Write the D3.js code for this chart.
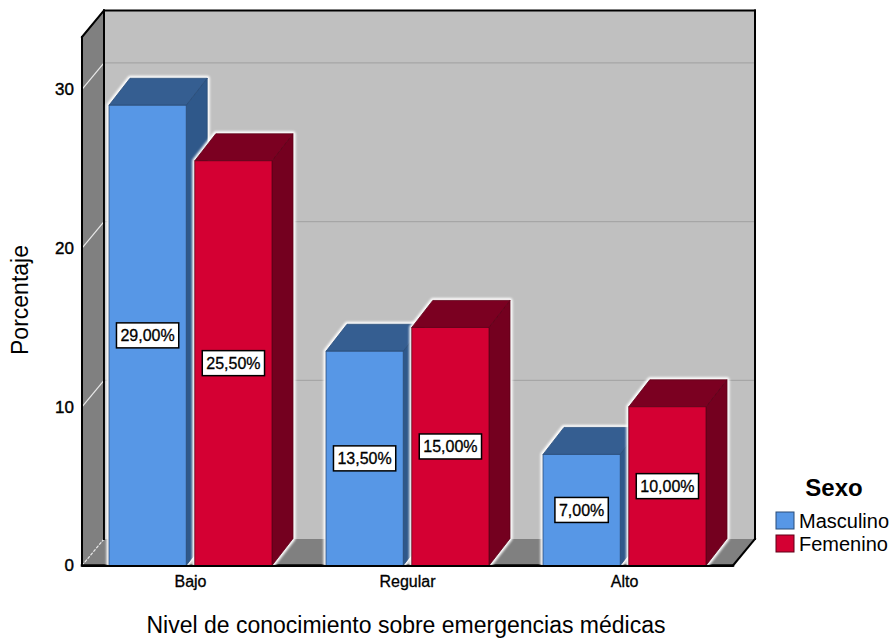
<!DOCTYPE html>
<html>
<head>
<meta charset="utf-8">
<script src="https://cdn.jsdelivr.net/npm/d3@7"></script>
<style>
  body { margin: 0; background: #fff; }
  svg { display: block; font-family: "Liberation Sans", Arial, sans-serif; }
</style>
</head>
<body>
<svg id="chart" width="896" height="641"></svg>
<script>
// Percentages by knowledge level and sex
const categories = ["Bajo", "Regular", "Alto"];
const series = ["Masculino", "Femenino"];
const masculino = [29.0, 13.5, 7.0];
const femenino = [25.5, 15.0, 10.0];
const yTicks = [0, 10, 20, 30];

const valuesBySeries = { Masculino: masculino, Femenino: femenino };

const palette = {
  Masculino: { front: "#5797e6", top: "#355e91", side: "#2f588a", edge: "#2a4c78" },
  Femenino:  { front: "#d40033", top: "#7b0021", side: "#74001f", edge: "#5e0018" }
};

const svg = d3.select("#chart");

// 3D frame: front plane and depth offset of the walls / boxes
const frontLeft = 82, frontRight = 733;
const baseY = 565.5, topY = 37;
const DX = 22, DY = -26.5;

const y = d3.scaleLinear().domain([0, 33.3]).range([baseY, topY]);
const x0 = d3.scaleBand().domain(categories).range([frontLeft, frontRight]);
const x1 = d3.scaleBand().domain(series).range([27, 190]).paddingInner(0.1);

const es = d3.formatLocale({ decimal: ",", thousands: ".", grouping: [3], currency: ["", "€"] });
const pct = v => es.format(".2f")(v) + "%";

// soft white halo used around boxes
const defs = svg.append("defs");
defs.append("filter").attr("id", "halo").attr("x", "-20%").attr("y", "-20%").attr("width", "140%").attr("height", "140%")
  .append("feGaussianBlur").attr("stdDeviation", 1.2);

const pts = a => a.map(p => p.join(",")).join(" ");

// ----- walls -----
const g = svg.append("g");
const backL = frontLeft + DX, backR = frontRight + DX;
const backTop = topY + DY, backBase = baseY + DY;

// back wall
g.append("rect").attr("x", backL).attr("y", backTop).attr("width", backR - backL).attr("height", backBase - backTop)
  .attr("fill", "#c0c0c0");
// soft highlights inside the back wall borders
g.append("line").attr("x1", backR - 2.5).attr("x2", backR - 2.5).attr("y1", backTop + 2).attr("y2", backBase)
  .attr("stroke", "#e6e6e6").attr("stroke-width", 2).attr("filter", "url(#halo)");
g.append("line").attr("x1", backL).attr("x2", backR).attr("y1", backTop + 3).attr("y2", backTop + 3)
  .attr("stroke", "#d8d8d8").attr("stroke-width", 2).attr("filter", "url(#halo)");

// left wall
g.append("polygon").attr("points", pts([[frontLeft, topY], [backL, backTop], [backL, backBase], [frontLeft, baseY]]))
  .attr("fill", "#808080");

// floor
g.append("polygon").attr("points", pts([[frontLeft, baseY], [backL, backBase], [backR, backBase], [frontRight, baseY]]))
  .attr("fill", "#808080");

// gridlines on back wall and left wall
yTicks.forEach(t => {
  if (t > 0) {
    g.append("line").attr("x1", backL).attr("x2", backR).attr("y1", y(t) + DY).attr("y2", y(t) + DY)
      .attr("stroke", "#a6a6a6").attr("stroke-width", 1.2);
  }
  g.append("line").attr("x1", frontLeft).attr("y1", y(t)).attr("x2", backL).attr("y2", y(t) + DY)
    .attr("stroke", "#e8e8e8").attr("stroke-width", 1.2)
    .attr("stroke-dasharray", t === 0 ? "3,1.5" : null);
});

// frame edges
const edge = (a, b, w) => g.append("line").attr("x1", a[0]).attr("y1", a[1]).attr("x2", b[0]).attr("y2", b[1])
  .attr("stroke", "#000").attr("stroke-width", w).attr("stroke-linecap", "square");
edge([backL, backTop], [backR, backTop], 2);
edge([backR, backTop], [backR, backBase], 2);
edge([backL, backTop], [backL, backBase], 2);
edge([frontLeft, topY], [backL, backTop], 2);
edge([frontLeft, topY], [frontLeft, baseY], 2);
edge([frontLeft, baseY], [frontRight, baseY], 2.5);
edge([frontRight, baseY], [backR, backBase], 2);

// ----- boxes -----
const bars = [];
categories.forEach((c, i) => {
  series.forEach(s => {
    bars.push({ cat: c, series: s, value: valuesBySeries[s][i] });
  });
});

const bd = 21, bdy = -27; // box depth
const barG = svg.append("g");
bars.forEach(d => {
  const xl = x0(d.cat) + x1(d.series);
  const xr = xl + x1.bandwidth();
  const yt = y(d.value), yb = y(0);
  const col = palette[d.series];
  const b = barG.append("g");
  // halo
  b.append("polygon")
    .attr("points", pts([[xl, yb], [xl, yt], [xl + bd, yt + bdy], [xr + bd, yt + bdy], [xr + bd, yb + bdy], [xr, yb]]))
    .attr("fill", "none").attr("stroke", "#ffffff").attr("stroke-width", 5).attr("stroke-linejoin", "round")
    .attr("filter", "url(#halo)");
  // side
  b.append("polygon").attr("points", pts([[xr, yt], [xr + bd, yt + bdy], [xr + bd, yb + bdy], [xr, yb]]))
    .attr("fill", col.side).attr("stroke", col.edge).attr("stroke-width", 0.8);
  // top
  b.append("polygon").attr("points", pts([[xl, yt], [xl + bd, yt + bdy], [xr + bd, yt + bdy], [xr, yt]]))
    .attr("fill", col.top).attr("stroke", col.edge).attr("stroke-width", 0.8);
  // front
  b.append("rect").attr("x", xl).attr("y", yt).attr("width", xr - xl).attr("height", yb - yt)
    .attr("fill", col.front).attr("stroke", col.edge).attr("stroke-width", 0.8);
});
// front base line over boxes
svg.append("line").attr("x1", frontLeft).attr("x2", frontRight).attr("y1", baseY + 0.5).attr("y2", baseY + 0.5)
  .attr("stroke", "#000").attr("stroke-width", 2);

// ----- value labels -----
const lab = svg.append("g");
bars.forEach(d => {
  const cx = x0(d.cat) + x1(d.series) + x1.bandwidth() / 2;
  const cy = y(d.value / 2);
  const t = lab.append("text").attr("x", cx).attr("y", cy).attr("text-anchor", "middle").attr("dy", "0.36em")
    .attr("font-size", 16).attr("fill", "#000").attr("stroke", "#000").attr("stroke-width", 0.3)
    .text(pct(d.value));
  const bb = t.node().getBBox();
  lab.insert("rect", () => t.node())
    .attr("x", bb.x - 4).attr("y", cy - 12.5).attr("width", bb.width + 8).attr("height", 25)
    .attr("fill", "#fff").attr("stroke", "#000").attr("stroke-width", 1.5);
});

// ----- axes -----
const yAxis = svg.append("g").attr("transform", `translate(${frontLeft - 6},0)`)
  .call(d3.axisLeft(y).tickValues(yTicks).tickSize(0).tickPadding(2).tickFormat(d3.format("d")));
yAxis.select(".domain").remove();
yAxis.selectAll("text").attr("font-size", 17).attr("font-family", "Liberation Sans, Arial, sans-serif")
  .attr("fill", "#000").attr("stroke", "#000").attr("stroke-width", 0.4);

const xAxis = svg.append("g").attr("transform", `translate(0,${baseY + 8})`)
  .call(d3.axisBottom(x0).tickSize(0).tickPadding(2));
xAxis.select(".domain").remove();
xAxis.selectAll("text").attr("font-size", 16).attr("font-family", "Liberation Sans, Arial, sans-serif")
  .attr("fill", "#000").attr("stroke", "#000").attr("stroke-width", 0.3);

svg.append("text").attr("x", 406).attr("y", 633).attr("text-anchor", "middle")
  .attr("font-size", 23).attr("fill", "#000").text("Nivel de conocimiento sobre emergencias médicas");

svg.append("text").attr("transform", "translate(28,300) rotate(-90)").attr("text-anchor", "middle")
  .attr("font-size", 23).attr("fill", "#000").text("Porcentaje");

// ----- legend -----
const leg = svg.append("g");
leg.append("text").attr("x", 834).attr("y", 496).attr("text-anchor", "middle")
  .attr("font-size", 24).attr("font-weight", "bold").attr("fill", "#000").text("Sexo");
series.forEach((s, i) => {
  const yy = 512 + i * 23;
  leg.append("rect").attr("x", 776).attr("y", yy).attr("width", 18).attr("height", 17)
    .attr("fill", palette[s].front).attr("stroke", palette[s].edge).attr("stroke-width", 1);
  leg.append("text").attr("x", 799).attr("y", yy + 8.5).attr("dy", "0.36em")
    .attr("font-size", 20).attr("fill", "#000").text(s);
});
</script>
</body>
</html>
